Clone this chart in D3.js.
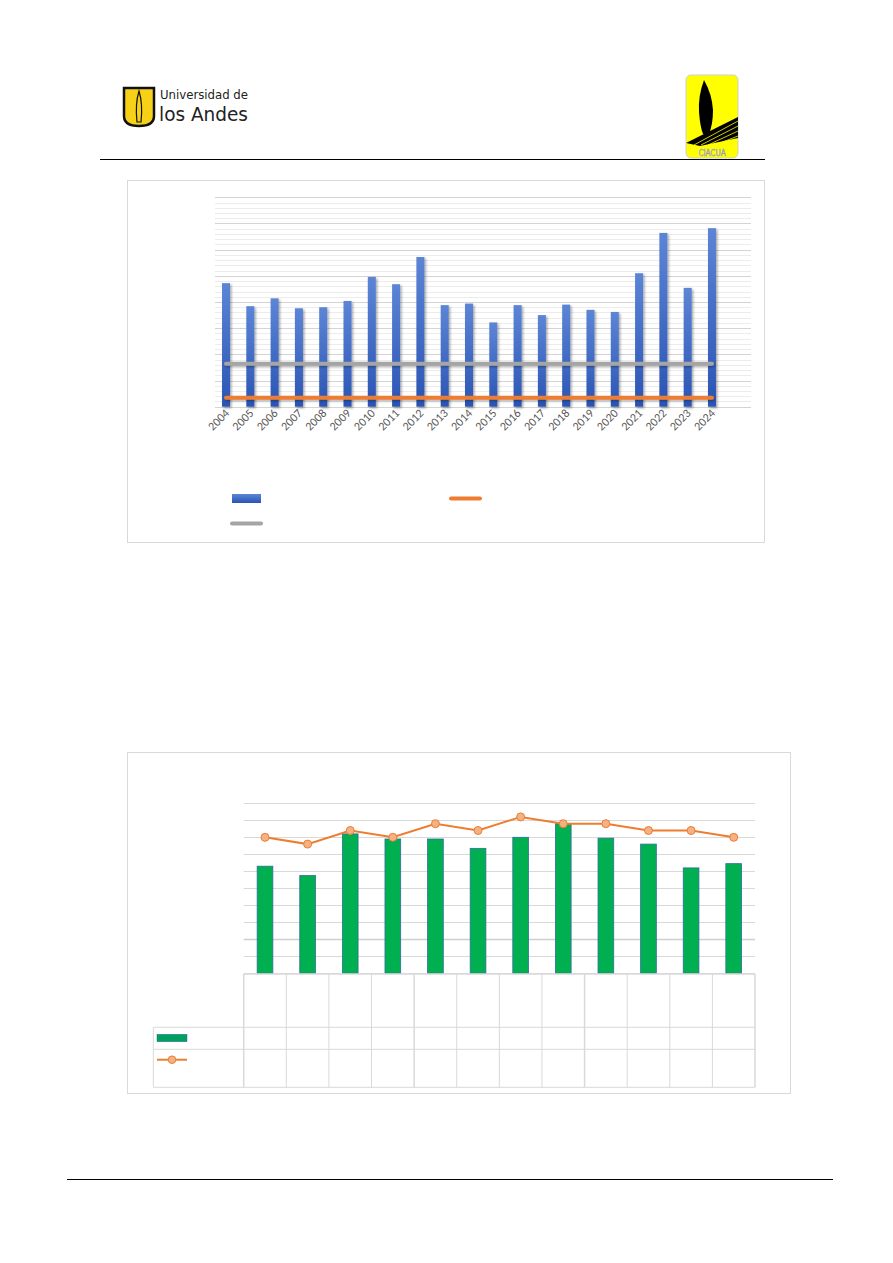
<!DOCTYPE html>
<html>
<head>
<meta charset="utf-8">
<script src="https://cdn.jsdelivr.net/npm/d3@7"></script>
<style>
  body { margin: 0; background: #fff; }
  svg { display: block; }
</style>
</head>
<body>
<script>
"use strict";

// chart 1 data
var years = ["2004", "2005", "2006", "2007", "2008", "2009", "2010", "2011", "2012", "2013",
    "2014", "2015", "2016", "2017", "2018", "2019", "2020", "2021", "2022", "2023", "2024"]
var yearValues = [236, 192, 207, 188, 190, 202, 248, 234, 286, 194,
    197, 161, 194, 175, 195, 185, 181, 255, 332, 227, 341]
var grayValues = [82, 82, 82, 82, 82, 82, 82, 82, 82, 82, 82, 82, 82, 82, 82, 82, 82, 82, 82, 82, 82]
var orangeValues = [17, 17, 17, 17, 17, 17, 17, 17, 17, 17, 17, 17, 17, 17, 17, 17, 17, 17, 17, 17, 17]
var yTicks1 = [0, 50, 100, 150, 200, 250, 300, 350, 400]

// chart 2 data
var cats = ["c1", "c2", "c3", "c4", "c5", "c6", "c7", "c8", "c9", "c10", "c11", "c12"]
var catLabels = ["", "", "", "", "", "", "", "", "", "", "", ""]
var barValues2 = [63, 57.5, 82, 79, 79, 73.5, 80, 88, 79.5, 76, 62, 64.5]
var lineValues2 = [80, 76, 84, 80, 88, 84, 92, 88, 88, 84, 84, 80]
var yTicks2 = [0, 10, 20, 30, 40, 50, 60, 70, 80, 90, 100]

var width = 893
var height = 1263

var svg = d3.select("body").append("svg")
    .attr("width", width)
    .attr("height", height)

var defs = svg.append("defs")

var grad = defs.append("linearGradient")
    .attr("id", "blueGrad")
    .attr("x1", 0).attr("y1", 0).attr("x2", 0).attr("y2", 1)
grad.append("stop").attr("offset", "0%").attr("stop-color", "#5c85d6")
grad.append("stop").attr("offset", "100%").attr("stop-color", "#2a54b4")

var shadow = defs.append("filter")
    .attr("id", "shadow")
    .attr("x", "-50%").attr("y", "-10%").attr("width", "200%").attr("height", "130%")
shadow.append("feDropShadow")
    .attr("dx", 1.5).attr("dy", 1.5)
    .attr("stdDeviation", 1.2)
    .attr("flood-color", "#000")
    .attr("flood-opacity", 0.35)

// line shadow needs user space units, the path bbox has no height
var lineShadow = defs.append("filter")
    .attr("id", "lineShadow")
    .attr("filterUnits", "userSpaceOnUse")
    .attr("x", 200).attr("y", 180).attr("width", 560).attr("height", 240)
lineShadow.append("feDropShadow")
    .attr("dx", 1).attr("dy", 1.5)
    .attr("stdDeviation", 1)
    .attr("flood-color", "#000")
    .attr("flood-opacity", 0.3)

// ---------- page header ----------
var head = svg.append("g")

// uniandes shield
head.append("path")
    .attr("d", "M124,88 L154,88 L154,116 Q154,126 139,126 Q124,126 124,116 Z")
    .attr("fill", "#f7d117")
    .attr("stroke", "#111")
    .attr("stroke-width", 2.5)
head.append("path")
    .attr("d", "M139,91 Q135,104 137,122 L141,122 Q143,104 139,91 Z")
    .attr("fill", "none")
    .attr("stroke", "#111")
    .attr("stroke-width", 1.2)

head.append("text")
    .attr("x", 160).attr("y", 99)
    .attr("font-family", "'Liberation Sans Narrow', 'DejaVu Sans Condensed', sans-serif")
    .attr("font-size", 12.5)
    .attr("textLength", 88)
    .attr("lengthAdjust", "spacingAndGlyphs")
    .attr("fill", "#222")
    .text("Universidad de")
head.append("text")
    .attr("x", 159).attr("y", 121)
    .attr("font-family", "'Liberation Sans Narrow', 'DejaVu Sans Condensed', sans-serif")
    .attr("font-size", 20)
    .attr("textLength", 89)
    .attr("lengthAdjust", "spacingAndGlyphs")
    .attr("fill", "#222")
    .text("los Andes")

// ciacua logo
head.append("rect")
    .attr("x", 686).attr("y", 75)
    .attr("width", 52).attr("height", 83)
    .attr("rx", 5)
    .attr("fill", "#ffff00")
    .attr("stroke", "#cfcfcf")
head.append("path")
    .attr("d", "M704,80 Q698,96 699,112 Q700,126 703,134 L709,134 Q713,124 713,110 Q712,94 704,80 Z")
    .attr("fill", "#000")
head.append("path")
    .attr("d", "M686,143 L738,117 L738,138 L700,146 Z")
    .attr("fill", "#000")
var stripes = [0, 1, 2, 3]
head.selectAll(".stripe")
    .data(stripes)
    .enter().append("line")
    .attr("class", "stripe")
    .attr("x1", function(d) { return 694 + d * 7 })
    .attr("y1", 145)
    .attr("x2", 738)
    .attr("y2", function(d) { return 121 + d * 5 })
    .attr("stroke", "#ffff00")
    .attr("stroke-width", 0.8)
head.append("text")
    .attr("x", 712).attr("y", 156)
    .attr("text-anchor", "middle")
    .attr("font-family", "'DejaVu Sans Condensed', sans-serif")
    .attr("font-size", 8)
    .attr("fill", "#fff")
    .attr("stroke", "#999")
    .attr("stroke-width", 0.5)
    .text("CIACUA")

head.append("line")
    .attr("x1", 100).attr("x2", 765)
    .attr("y1", 159.5).attr("y2", 159.5)
    .attr("stroke", "#000")
    .attr("stroke-width", 1)

svg.append("line")
    .attr("x1", 67).attr("x2", 833)
    .attr("y1", 1179.5).attr("y2", 1179.5)
    .attr("stroke", "#000")
    .attr("stroke-width", 1)

// ---------- chart 1 ----------
var c1 = svg.append("g")

c1.append("rect")
    .attr("x", 127.5).attr("y", 180.5)
    .attr("width", 637).attr("height", 362)
    .attr("fill", "#fff")
    .attr("stroke", "#d9d9d9")

var x1 = d3.scaleBand()
    .domain(years)
    .range([214, 724])
    .paddingInner(0.67)
    .paddingOuter(0.33)
var y1 = d3.scaleLinear()
    .domain([0, 400])
    .range([406.7, 197.3])

var minorTicks1 = d3.range(0, 401, 10)
c1.append("g").selectAll("line")
    .data(minorTicks1)
    .enter().append("line")
    .attr("x1", 215).attr("x2", 751)
    .attr("y1", function(d) { return Math.round(y1(d)) + 0.5 })
    .attr("y2", function(d) { return Math.round(y1(d)) + 0.5 })
    .attr("stroke", "#ececec")
c1.append("g").selectAll("line")
    .data(yTicks1)
    .enter().append("line")
    .attr("x1", 215).attr("x2", 751)
    .attr("y1", function(d) { return Math.round(y1(d)) + 0.5 })
    .attr("y2", function(d) { return Math.round(y1(d)) + 0.5 })
    .attr("stroke", "#d4d4d4")

c1.append("g").selectAll("rect")
    .data(yearValues)
    .enter().append("rect")
    .attr("x", function(d, i) { return x1(years[i]) })
    .attr("y", function(d) { return y1(d) })
    .attr("width", x1.bandwidth())
    .attr("height", function(d) { return y1(0) - y1(d) })
    .attr("fill", "url(#blueGrad)")
    .attr("filter", "url(#shadow)")

var line1 = d3.line()
    .x(function(d, i) { return x1(years[i]) + x1.bandwidth() / 2 })
    .y(function(d) { return y1(d) })

c1.append("path")
    .datum(grayValues)
    .attr("d", line1)
    .attr("fill", "none")
    .attr("stroke", "#a5a5a5")
    .attr("stroke-width", 4)
    .attr("stroke-linecap", "round")
    .attr("filter", "url(#lineShadow)")
c1.append("path")
    .datum(orangeValues)
    .attr("d", line1)
    .attr("fill", "none")
    .attr("stroke", "#ed7d31")
    .attr("stroke-width", 4)
    .attr("stroke-linecap", "round")
    .attr("filter", "url(#lineShadow)")

// rotated year labels (css transform this time)
c1.append("g").selectAll("text")
    .data(years)
    .enter().append("text")
    .attr("x", 0).attr("y", 0)
    .style("transform", function(d) {
        return "translate(" + (x1(d) + x1.bandwidth() / 2 + 4) + "px,414px) rotate(-45deg)"
    })
    .style("transform-origin", "0 0")
    .style("text-anchor", "end")
    .style("font-family", "Carlito, Calibri, 'Open Sans', sans-serif")
    .style("font-size", "12px")
    .style("fill", "#595959")
    .text(function(d) { return d })

// legend chart 1
c1.append("rect")
    .attr("x", 232).attr("y", 494)
    .attr("width", 29).attr("height", 9)
    .attr("fill", "url(#blueGrad)")
c1.append("line")
    .attr("x1", 451).attr("x2", 480)
    .attr("y1", 498.5).attr("y2", 498.5)
    .attr("stroke", "#ed7d31")
    .attr("stroke-width", 4)
    .attr("stroke-linecap", "round")
c1.append("line")
    .attr("x1", 232).attr("x2", 261)
    .attr("y1", 523.5).attr("y2", 523.5)
    .attr("stroke", "#a5a5a5")
    .attr("stroke-width", 4)
    .attr("stroke-linecap", "round")

// ---------- chart 2 ----------
var c2 = svg.append("g")

c2.append("rect")
    .attr("x", 127.5).attr("y", 752.5)
    .attr("width", 663).attr("height", 341)
    .attr("fill", "#fff")
    .attr("stroke", "#d9d9d9")

var x2 = d3.scaleBand()
    .domain(cats)
    .range([243.7, 755])
var y2 = d3.scaleLinear()
    .domain([0, 100])
    .range([973.3, 803.3])

c2.append("g").selectAll("line")
    .data(yTicks2)
    .enter().append("line")
    .attr("x1", 243.7).attr("x2", 755)
    .attr("y1", function(d) { return Math.round(y2(d)) + 0.5 })
    .attr("y2", function(d) { return Math.round(y2(d)) + 0.5 })
    .attr("stroke", function(d) { return d == 20 ? "#cfcfcf" : "#d9d9d9" })
    .attr("stroke-width", function(d) { return d == 20 ? 1.5 : 1 })

var bw2 = 15.7
c2.append("g").selectAll("rect")
    .data(barValues2)
    .enter().append("rect")
    .attr("x", function(d, i) { return x2(cats[i]) + x2.bandwidth() / 2 - bw2 / 2 })
    .attr("y", function(d) { return y2(d) })
    .attr("width", bw2)
    .attr("height", function(d) { return y2(0) - y2(d) })
    .attr("fill", "#00b050")
    .attr("stroke", "#2e6d9e")
    .attr("stroke-width", 0.8)

var line2 = d3.line()
    .x(function(d, i) { return x2(cats[i]) + x2.bandwidth() / 2 })
    .y(function(d) { return y2(d) })

c2.append("path")
    .datum(lineValues2)
    .attr("d", line2)
    .attr("fill", "none")
    .attr("stroke", "#ed7d31")
    .attr("stroke-width", 2)

c2.append("g").selectAll("circle")
    .data(lineValues2)
    .enter().append("circle")
    .attr("cx", function(d, i) { return x2(cats[i]) + x2.bandwidth() / 2 })
    .attr("cy", function(d) { return y2(d) })
    .attr("r", 4)
    .attr("fill", "#f4b183")
    .attr("stroke", "#ed7d31")
    .attr("stroke-width", 1)

// data table under chart 2
var tTop = 974, tRow1 = 1027.3, tRow2 = 1049.3, tBottom = 1087.3, tLeft = 153.3
var table = c2.append("g")
    .attr("fill", "none")
    .attr("stroke", "#d9d9d9")

table.selectAll(".vline")
    .data(cats.concat(["end"]))
    .enter().append("line")
    .attr("class", "vline")
    .attr("x1", function(d) { return d == "end" ? 755 : x2(d) })
    .attr("x2", function(d) { return d == "end" ? 755 : x2(d) })
    .attr("y1", tTop)
    .attr("y2", tBottom)
    .attr("stroke-width", function(d, i) { return (i % 4 == 0) ? 1.5 : 1 })

table.append("line")
    .attr("x1", 243.7).attr("x2", 755)
    .attr("y1", tTop).attr("y2", tTop)
    .attr("stroke-width", 1.5)
table.append("line")
    .attr("x1", tLeft).attr("x2", 755)
    .attr("y1", tRow1).attr("y2", tRow1)
table.append("line")
    .attr("x1", tLeft).attr("x2", 755)
    .attr("y1", tRow2).attr("y2", tRow2)
table.append("line")
    .attr("x1", tLeft).attr("x2", 755)
    .attr("y1", tBottom).attr("y2", tBottom)
table.append("line")
    .attr("x1", tLeft).attr("x2", tLeft)
    .attr("y1", tRow1).attr("y2", tBottom)

c2.append("g").selectAll("text")
    .data(catLabels)
    .enter().append("text")
    .attr("x", function(d, i) { return x2(cats[i]) + x2.bandwidth() / 2 })
    .attr("y", 1005)
    .attr("text-anchor", "middle")
    .attr("font-family", "Carlito, Calibri, sans-serif")
    .attr("font-size", 10)
    .attr("fill", "#595959")
    .text(function(d) { return d })

// legend keys in the table
c2.append("rect")
    .attr("x", 157).attr("y", 1034.3)
    .attr("width", 30).attr("height", 7.4)
    .attr("fill", "#00a060")
    .attr("stroke", "#2e6d9e")
    .attr("stroke-width", 0.5)
c2.append("line")
    .attr("x1", 157).attr("x2", 187)
    .attr("y1", 1059.7).attr("y2", 1059.7)
    .attr("stroke", "#ed7d31")
    .attr("stroke-width", 2)
c2.append("circle")
    .attr("cx", 172).attr("cy", 1059.7)
    .attr("r", 3.8)
    .attr("fill", "#f4b183")
    .attr("stroke", "#ed7d31")
</script>
</body>
</html>
